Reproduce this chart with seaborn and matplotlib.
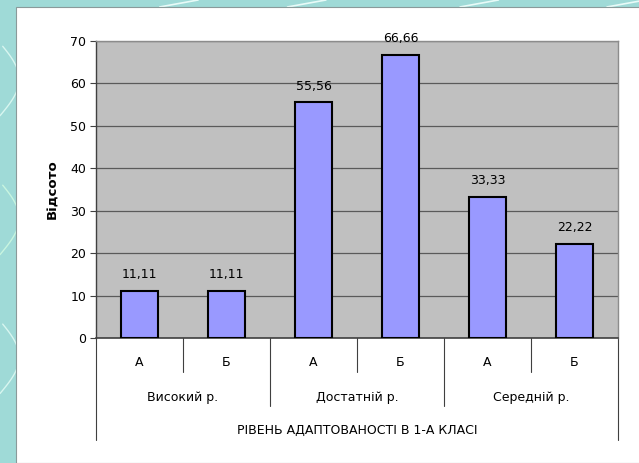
import numpy as np
import pandas as pd
import matplotlib
matplotlib.use("Agg")
import matplotlib.pyplot as plt
import matplotlib.patches as mpatches
import seaborn as sns

groups    = ["Високий р.", "Достатній р.", "Середній р."]
subgroups = ["А", "Б"]
values    = [11.11, 11.11, 55.56, 66.66, 33.33, 22.22]
y_ticks   = [0, 10, 20, 30, 40, 50, 60, 70]
y_label   = "Відсото"
x_title   = "РІВЕНЬ АДАПТОВАНОСТІ В 1-А КЛАСІ"

rows = []
i = 0
for g in groups:
    for s in subgroups:
        rows.append({"key": f"{g}|{s}", "group": g, "sub": s, "value": values[i]})
        i += 1
df = pd.DataFrame(rows)

sns.set_theme(style="white")
plt.rcParams["font.family"] = ["DejaVu Sans"]
plt.rcParams["text.color"] = "black"
plt.rcParams["axes.labelcolor"] = "black"
plt.rcParams["ytick.color"] = "black"

fig = plt.figure(figsize=(6.39, 4.63), dpi=100)
fig.patch.set_facecolor("#9fdad7")
# white slide panel with a few decorative curves on the teal border
t = np.linspace(0, 1, 50)
for b, c in [(0.75, "#d8f6f0"), (0.45, "#c8f5e0"), (0.15, "#d8f6f0")]:
    fig.add_artist(plt.Line2D(0.03 * np.sin(t * 3), b + 0.15 * t, color=c, lw=1.0,
                              transform=fig.transFigure, zorder=-3))
for x0 in [0.25, 0.45, 0.72, 0.95]:
    fig.add_artist(plt.Line2D([x0, x0 + 0.06], [0.985, 1.0], color="#e8fbf8", lw=1.2,
                              transform=fig.transFigure, zorder=-3))
fig.add_artist(mpatches.Rectangle((16 / 639, 0), 1, 1 - 7 / 463, transform=fig.transFigure,
                                  facecolor="white", edgecolor="#8a9a9a", lw=0.8, zorder=-2))

ax = fig.add_axes([96 / 639, 125 / 463, 522 / 639, 297 / 463])
ax.set_facecolor("#c0c0c0")
sns.barplot(data=df, x="key", y="value", order=list(df["key"]), color="#9999ff",
            saturation=1, width=0.43, edgecolor="black", linewidth=1.5, ax=ax, zorder=3)

ax.set_xlim(-0.5, len(df) - 0.5)
ax.set_ylim(0, 70)
ax.set_yticks(y_ticks)
ax.set_yticklabels([str(v) for v in y_ticks], fontsize=9)
ax.yaxis.grid(True, color="#5a5a5a", lw=0.9, zorder=1)
ax.tick_params(axis="y", left=True, length=4, width=0.8, color="#404040", pad=3)
ax.set_axisbelow(True)

for side in ["top", "right"]:
    ax.spines[side].set_color("#8c8c8c")
    ax.spines[side].set_linewidth(1.0)
ax.spines["left"].set_color("#404040")
ax.spines["bottom"].set_color("#404040")
ax.spines["left"].set_linewidth(1.0)
ax.spines["bottom"].set_linewidth(1.2)

# value labels
for i, v in enumerate(df["value"]):
    ax.annotate(f"{v:.2f}".replace(".", ","), (i, v), xytext=(0, 7),
                textcoords="offset points", ha="center", va="bottom", fontsize=9)

# multi-level category axis
ax.set_xticks([])
ax.set_xlabel("")
ax.set_ylabel(y_label, fontsize=9.5, fontweight="bold", labelpad=8)
trans = ax.get_xaxis_transform()
n = len(df)
for k in range(n + 1):
    x = k - 0.5
    if k == 0 or k == n:
        depth = -0.343
    elif k % len(subgroups) == 0:
        depth = -0.229
    else:
        depth = -0.1145
    ax.plot([x, x], [0, depth], transform=trans, color="#404040", lw=0.8, clip_on=False)
for i, s in enumerate(df["sub"]):
    ax.text(i, -0.084, s, transform=trans, ha="center", va="center", fontsize=9)
for j, g in enumerate(groups):
    ax.text(j * len(subgroups) + (len(subgroups) - 1) / 2, -0.199, g, transform=trans,
            ha="center", va="center", fontsize=9)
ax.text(0.5, -0.31, x_title, transform=ax.transAxes, ha="center", va="center", fontsize=9)

fig.savefig("out.png", dpi=100, facecolor=fig.get_facecolor())
